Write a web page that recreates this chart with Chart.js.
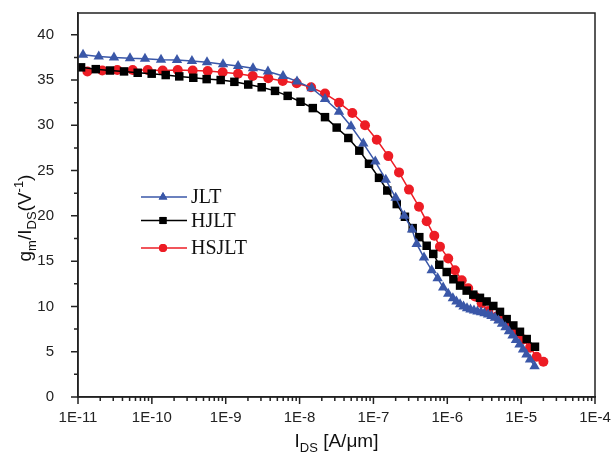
<!DOCTYPE html>
<html>
<head>
<meta charset="utf-8">
<script src="https://cdn.jsdelivr.net/npm/chart.js@4.4.1/dist/chart.umd.min.js"></script>
<style>
  body { margin: 0; background: #fff; }
  #wrap { width: 613px; height: 463px; }
</style>
</head>
<body>
<div id="wrap"><canvas id="chart" width="613" height="463"></canvas></div>
<script>
// I_DS in A/um, gm/I_DS in 1/V
const idsJLT = [
  1.17e-11, 1.91e-11, 3.07e-11, 5.06e-11, 8.07e-11, 1.33e-10, 2.19e-10, 3.49e-10, 5.58e-10, 9.19e-10,
  1.47e-9, 2.34e-9, 3.73e-9, 5.97e-9, 9.23e-9, 1.46e-8, 2.21e-8, 3.42e-8, 4.97e-8, 7.29e-8,
  1.06e-7, 1.47e-7, 2.0e-7, 2.62e-7, 3.33e-7, 3.85e-7, 4.84e-7, 6.15e-7, 7.4e-7, 8.8e-7,
  1.03e-6, 1.19e-6, 1.33e-6, 1.49e-6, 1.66e-6, 1.85e-6, 2.06e-6, 2.30e-6, 2.56e-6, 2.86e-6,
  3.19e-6, 3.56e-6, 3.96e-6, 4.43e-6, 4.93e-6, 5.51e-6, 6.14e-6, 6.84e-6, 7.64e-6, 8.51e-6,
  9.51e-6, 1.06e-5, 1.18e-5, 1.32e-5, 1.52e-5
];
const gmJLT = [
  37.8, 37.6, 37.5, 37.4, 37.35, 37.25, 37.2, 37.1, 36.95, 36.75,
  36.55, 36.3, 35.95, 35.45, 34.85, 34.1, 32.9, 31.5, 29.9, 28.0,
  26.0, 24.0, 22.0, 20.0, 18.5, 16.9, 15.4, 14.0, 13.1, 12.1,
  11.4, 10.9, 10.55, 10.25, 10.0, 9.8, 9.65, 9.55, 9.45, 9.35,
  9.25, 9.12, 8.95, 8.75, 8.45, 8.1, 7.7, 7.25, 6.8, 6.3,
  5.8, 5.25, 4.7, 4.15, 3.4
];

const idsHJLT = [
  1.10e-11, 1.74e-11, 2.71e-11, 4.20e-11, 6.43e-11, 9.95e-11, 1.54e-10, 2.35e-10, 3.64e-10, 5.52e-10,
  8.55e-10, 1.31e-9, 2.02e-9, 3.07e-9, 4.65e-9, 6.90e-9, 1.03e-8, 1.51e-8, 2.21e-8, 3.18e-8,
  4.57e-8, 6.44e-8, 8.71e-8, 1.19e-7, 1.54e-7, 2.07e-7, 2.67e-7, 3.40e-7, 4.18e-7, 5.26e-7,
  6.46e-7, 7.79e-7, 9.82e-7, 1.21e-6, 1.49e-6, 1.83e-6, 2.25e-6, 2.77e-6, 3.41e-6, 4.20e-6,
  5.17e-6, 6.37e-6, 7.84e-6, 9.64e-6, 1.19e-5, 1.54e-5
];
const gmHJLT = [
  36.4, 36.2, 36.05, 35.95, 35.8, 35.7, 35.55, 35.4, 35.25, 35.1,
  35.0, 34.8, 34.5, 34.2, 33.8, 33.25, 32.6, 31.9, 30.9, 29.75,
  28.6, 27.2, 25.75, 24.2, 22.8, 21.3, 19.9, 18.65, 17.65, 16.7,
  15.8, 14.6, 13.8, 13.0, 12.3, 11.75, 11.3, 10.95, 10.55, 10.05,
  9.4, 8.6, 7.9, 7.2, 6.4, 5.55
];

const idsHSJLT = [
  1.34e-11, 2.13e-11, 3.40e-11, 5.50e-11, 8.79e-11, 1.40e-10, 2.24e-10, 3.57e-10, 5.70e-10, 9.10e-10,
  1.47e-9, 2.32e-9, 3.77e-9, 5.91e-9, 9.14e-9, 1.43e-8, 2.21e-8, 3.42e-8, 5.18e-8, 7.69e-8,
  1.11e-7, 1.59e-7, 2.22e-7, 3.03e-7, 4.14e-7, 5.26e-7, 6.67e-7, 7.96e-7, 1.03e-6, 1.27e-6,
  1.57e-6, 1.92e-6, 2.37e-6, 2.92e-6, 3.59e-6, 4.67e-6, 5.73e-6, 7.06e-6, 8.71e-6, 1.07e-5,
  1.32e-5, 1.62e-5, 2.00e-5
];
const gmHSJLT = [
  35.95, 36.05, 36.1, 36.1, 36.1, 36.05, 36.1, 36.05, 36.0, 35.85,
  35.7, 35.45, 35.2, 34.9, 34.65, 34.2, 33.5, 32.5, 31.35, 30.0,
  28.4, 26.6, 24.8, 22.9, 21.0, 19.4, 17.8, 16.6, 15.3, 14.0,
  12.9, 12.0, 11.1, 10.35, 9.5, 8.9, 8.45, 7.75, 7.0, 6.35,
  5.45, 4.45, 3.9
];

const seriesNames = ['JLT', 'HJLT', 'HSJLT'];
const xTicks = [1e-11, 1e-10, 1e-9, 1e-8, 1e-7, 1e-6, 1e-5, 1e-4];
const yTicks = [0, 5, 10, 15, 20, 25, 30, 35, 40];

const toPoints = (xs, ys) => xs.map((x, i) => ({ x: x, y: ys[i] }));

const BLUE = '#3a57a8';
const BLACK = '#000000';
const RED = '#ed1c24';
const FRAME = '#222222';
const tickFont = { family: 'Liberation Sans, Arial, sans-serif', size: 15 };

// chart.js adds half a label to the plot padding, the figure does not
const noScalePadding = scale => {
  scale.paddingTop = 0;
  scale.paddingBottom = 0;
  scale.paddingLeft = 0;
  scale.paddingRight = 0;
};

// frame, minor ticks, axis titles with sub/superscripts and the legend box
const decorations = {
  id: 'decorations',
  afterDraw(chart) {
    const ctx = chart.ctx;
    const area = chart.chartArea;
    const xs = chart.scales.x;
    const ys = chart.scales.y;
    ctx.save();
    ctx.strokeStyle = FRAME;
    ctx.lineWidth = 1.5;
    ctx.strokeRect(area.left, area.top, area.right - area.left, area.bottom - area.top);

    ctx.beginPath();
    for (let d = -11; d < -4; d++) {
      for (let m = 1; m < 10; m++) {
        const px = xs.getPixelForValue(m * Math.pow(10, d));
        ctx.moveTo(px, area.bottom);
        ctx.lineTo(px, area.bottom + (m === 1 ? 7 : 4));
      }
    }
    const last = xs.getPixelForValue(1e-4);
    ctx.moveTo(last, area.bottom);
    ctx.lineTo(last, area.bottom + 7);
    for (let v = 0; v <= 40; v += 2.5) {
      const py = ys.getPixelForValue(v);
      ctx.moveTo(area.left, py);
      ctx.lineTo(area.left - (v % 5 === 0 ? 7 : 4), py);
    }
    ctx.stroke();

    // text runs: [text, size, baseline shift]
    const drawRuns = (runs, x, y) => {
      let cx = x;
      runs.forEach(r => {
        ctx.font = r[1] + 'px "Liberation Sans", Arial, sans-serif';
        ctx.fillText(r[0], cx, y + r[2]);
        cx += ctx.measureText(r[0]).width;
      });
    };
    const runsWidth = runs => runs.reduce((w, r) => {
      ctx.font = r[1] + 'px "Liberation Sans", Arial, sans-serif';
      return w + ctx.measureText(r[0]).width;
    }, 0);

    ctx.fillStyle = '#111';
    ctx.textBaseline = 'alphabetic';
    ctx.textAlign = 'left';

    const xTitle = [['I', 19, 0], ['DS', 13, 5], [' [A/\u03bcm]', 19, 0]];
    const xCenter = (area.left + area.right) / 2;
    drawRuns(xTitle, xCenter - runsWidth(xTitle) / 2, 447);

    const yTitle = [['g', 19, 0], ['m', 13, 5], ['/I', 19, 0], ['DS', 13, 5], ['(V', 19, 0], ['-1', 13, -8], [')', 19, 0]];
    ctx.save();
    ctx.translate(31, 218);
    ctx.rotate(-Math.PI / 2);
    drawRuns(yTitle, -runsWidth(yTitle) / 2, 0);
    ctx.restore();

    // legend
    const rows = [197, 220.5, 248];
    chart.data.datasets.forEach((ds, i) => {
      const y = rows[i];
      ctx.strokeStyle = ds.borderColor;
      ctx.lineWidth = 1.5;
      ctx.beginPath();
      ctx.moveTo(141, y);
      ctx.lineTo(187, y);
      ctx.stroke();
      ctx.fillStyle = ds.backgroundColor;
      Chart.helpers.drawPoint(ctx, { pointStyle: ds.pointStyle, radius: ds.pointStyle === 'circle' ? 4 : 5, borderWidth: 0 }, 163, y);
      ctx.fill();
      ctx.fillStyle = '#111';
      ctx.font = '20px "Liberation Serif", "Times New Roman", serif';
      ctx.textBaseline = 'middle';
      ctx.fillText(seriesNames[i], 191, y + 1);
    });
    ctx.restore();
  }
};

const makeSet = (label, xs, ys, color, style, radius) => ({
  label: label,
  data: toPoints(xs, ys),
  showLine: true,
  borderColor: color,
  backgroundColor: color,
  borderWidth: 1.5,
  pointStyle: style,
  pointRadius: radius,
  pointBorderWidth: 0,
  pointBackgroundColor: color,
});

new Chart(document.getElementById('chart'), {
  type: 'scatter',
  data: {
    datasets: [
      makeSet(seriesNames[0], idsJLT, gmJLT, BLUE, 'triangle', 6),
      makeSet(seriesNames[1], idsHJLT, gmHJLT, BLACK, 'rect', 6),
      makeSet(seriesNames[2], idsHSJLT, gmHSJLT, RED, 'circle', 5),
    ]
  },
  options: {
    responsive: false,
    animation: false,
    layout: { padding: { top: 13, right: 18, left: 0, bottom: 0 } },
    plugins: {
      legend: { display: false },
      tooltip: { enabled: false },
    },
    scales: {
      x: {
        type: 'logarithmic',
        min: 1e-11,
        max: 1e-4,
        afterBuildTicks: scale => { scale.ticks = xTicks.map(v => ({ value: v })); },
        afterFit: scale => { scale.height = 66; noScalePadding(scale); },
        grid: { display: false },
        border: { display: true, color: FRAME, width: 1.5 },
        ticks: {
          autoSkip: false,
          maxRotation: 0,
          padding: 4,
          color: '#222',
          font: tickFont,
          callback: value => '1E' + Math.round(Math.log10(value)),
        },
      },
      y: {
        min: 0,
        max: 42.4,
        afterBuildTicks: scale => { scale.ticks = yTicks.map(v => ({ value: v })); },
        afterFit: scale => { scale.width = 78; noScalePadding(scale); },
        grid: { display: false },
        border: { display: true, color: FRAME, width: 1.5 },
        ticks: {
          padding: 16,
          color: '#222',
          font: tickFont,
        },
      },
    },
  },
  plugins: [decorations],
});
</script>
</body>
</html>
